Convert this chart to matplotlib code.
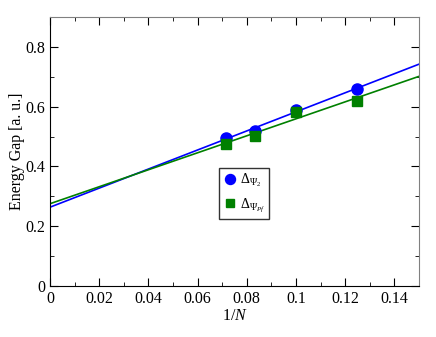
import numpy as np
import matplotlib.pyplot as plt
from matplotlib.ticker import MultipleLocator

plt.rcParams['font.family'] = ['Liberation Serif', 'DejaVu Serif']
plt.rcParams['mathtext.fontset'] = 'custom'
plt.rcParams['mathtext.rm'] = 'Liberation Serif'
plt.rcParams['mathtext.it'] = 'Liberation Serif:italic'

# data
inv_n = [1/14, 1/12, 1/10, 1/8]
gap_psi2 = [0.495, 0.52, 0.59, 0.66]
gap_pf = [0.475, 0.502, 0.582, 0.62]

fig = plt.figure(figsize=(4.36, 3.37), dpi=100)
ax = fig.add_axes([0.1147, 0.151, 0.846, 0.799])

xx = np.array([0, 0.15])
for y, col in [(gap_psi2, 'blue'), (gap_pf, 'green')]:
    k, b = np.polyfit(inv_n, y, 1)
    ax.plot(xx, k * xx + b, color=col, lw=1.2)

ax.plot(inv_n, gap_psi2, 'o', color='blue', ms=8, label=r'$\Delta_{\Psi_2}$')
ax.plot(inv_n, gap_pf, 's', color='green', ms=7, label=r'$\Delta_{\Psi_{Pf}}$')

ax.set_xlim(0, 0.15)
ax.set_ylim(0, 0.9)
ax.xaxis.set_minor_locator(MultipleLocator(0.01))
ax.yaxis.set_minor_locator(MultipleLocator(0.1))
ax.set_yticks([0, 0.2, 0.4, 0.6, 0.8])
ax.set_yticklabels(['0', '0.2', '0.4', '0.6', '0.8'])
ax.set_xticks([0, 0.02, 0.04, 0.06, 0.08, 0.1, 0.12, 0.14])
ax.set_xticklabels(['0', '0.02', '0.04', '0.06', '0.08', '0.1', '0.12', '0.14'])
ax.tick_params(which='both', direction='in', top=True, right=True, labelsize=11.5)
ax.tick_params(which='major', length=6)
ax.tick_params(which='minor', length=3)
for s in ['top', 'right']:
    ax.spines[s].set_color('gray')
ax.set_xlabel(r'1/$\mathit{N}$', fontsize=11.5, labelpad=1)
ax.set_ylabel('Energy Gap [a. u.]', fontsize=11.5, labelpad=0)

ax.legend(loc='center', bbox_to_anchor=(0.527, 0.345), frameon=True, fancybox=False,
          edgecolor='black', fontsize=10, handletextpad=0.2, borderpad=0.3,
          labelspacing=0.5, handlelength=1.0, markerscale=0.9)

plt.savefig('out.png', dpi=100)
